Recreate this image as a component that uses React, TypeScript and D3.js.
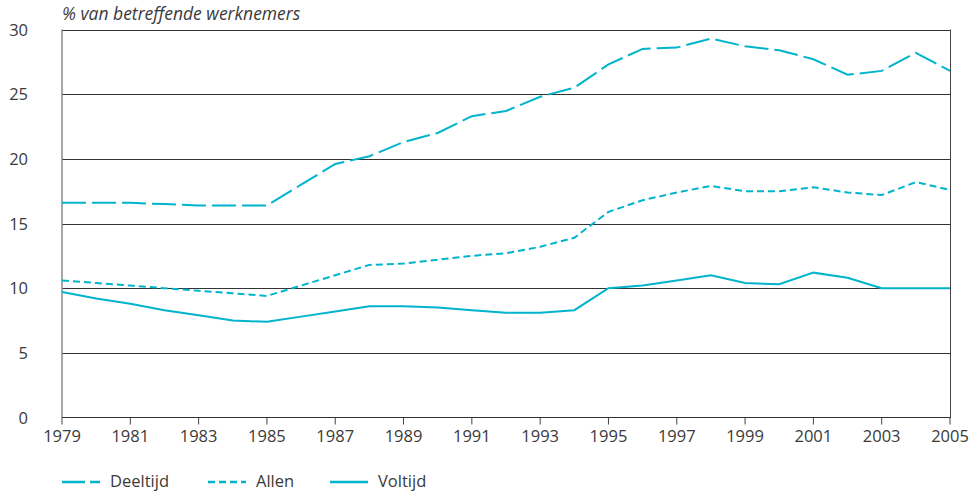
import React from "react";
import * as d3 from "d3";

const years = d3.range(1979, 2006);
const deeltijd = [16.6, 16.6, 16.6, 16.5, 16.4, 16.4, 16.4, 18.0, 19.6, 20.2, 21.3, 22.0, 23.3, 23.7, 24.8, 25.5, 27.3, 28.5, 28.6, 29.3, 28.7, 28.4, 27.7, 26.5, 26.8, 28.2, 26.8];
const allen = [10.6, 10.4, 10.2, 10.0, 9.8, 9.6, 9.4, 10.2, 11.0, 11.8, 11.9, 12.2, 12.5, 12.7, 13.2, 13.9, 15.9, 16.8, 17.4, 17.9, 17.5, 17.5, 17.8, 17.4, 17.2, 18.2, 17.6];
const voltijd = [9.7, 9.2, 8.8, 8.3, 7.9, 7.5, 7.4, 7.8, 8.2, 8.6, 8.6, 8.5, 8.3, 8.1, 8.1, 8.3, 10.0, 10.2, 10.6, 11.0, 10.4, 10.3, 11.2, 10.8, 10.0, 10.0, 10.0];
const xTicks = d3.range(1979, 2006, 2);
const yTicks = [0, 5, 10, 15, 20, 25, 30];
const seriesNames = ["Deeltijd", "Allen", "Voltijd"];
const yTitle = "% van betreffende werknemers";

const COLOR = "#00b4cc";
const TEXT = "#3a3a3a";
const FONT = "'Open Sans', 'Noto Sans', sans-serif";

export default function App() {
  const W = 979, H = 492;
  const left = 62, right = 950, top = 29.5, bottom = 417.5;
  const x = d3.scaleLinear().domain([1979, 2005]).range([left, right]);
  const y = d3.scaleLinear().domain([0, 30]).range([bottom, top]);
  const line = d3.line<number>().x((_, i) => x(years[i])).y((d) => y(d));
  const series = [
    { name: seriesNames[0], data: deeltijd, dash: "24,6" },
    { name: seriesNames[1], data: allen, dash: "7,4" },
    { name: seriesNames[2], data: voltijd, dash: "none" },
  ];
  const legendX = [62, 208, 330];
  return (
    <svg width={W} height={H} style={{ position: "absolute", left: 0, top: 0, background: "#fff" }} fontFamily={FONT}>
      <text x={left} y={20} fontSize={17.5} fontStyle="italic" fill={TEXT}>{yTitle}</text>
      {yTicks.filter((t) => t > 0).map((t) => (
        <line key={t} x1={left} x2={right} y1={Math.round(y(t)) + 0.5} y2={Math.round(y(t)) + 0.5} stroke="#333" strokeWidth={1.2} />
      ))}
      <line x1={right + 0.5} x2={right + 0.5} y1={top} y2={bottom} stroke="#444" strokeWidth={1} />
      <line x1={left} x2={left} y1={top} y2={bottom} stroke="#888" strokeWidth={1.5} />
      <line x1={left} x2={right + 1} y1={bottom} y2={bottom} stroke="#333" strokeWidth={1.2} />
      {xTicks.map((t) => (
        <g key={t}>
          <line x1={x(t)} x2={x(t)} y1={bottom} y2={bottom + 7} stroke="#444" strokeWidth={1} />
          <text x={x(t)} y={bottom + 24} textAnchor="middle" fontSize={16.5} fill={TEXT}>{t}</text>
        </g>
      ))}
      {yTicks.map((t) => (
        <text key={t} x={28} y={y(t) + 6} textAnchor="end" fontSize={16.5} fill={TEXT}>{t}</text>
      ))}
      {series.map((s) => (
        <path key={s.name} d={line(s.data) || ""} fill="none" stroke={COLOR} strokeWidth={2} strokeDasharray={s.dash} />
      ))}
      {series.map((s, i) => (
        <g key={s.name}>
          <line x1={legendX[i]} x2={legendX[i] + 38} y1={482} y2={482} stroke={COLOR} strokeWidth={2.5} strokeDasharray={s.dash === "24,6" ? "23,5" : s.dash} />
          <text x={legendX[i] + 48} y={487} fontSize={16.5} fill={TEXT}>{s.name}</text>
        </g>
      ))}
    </svg>
  );
}
